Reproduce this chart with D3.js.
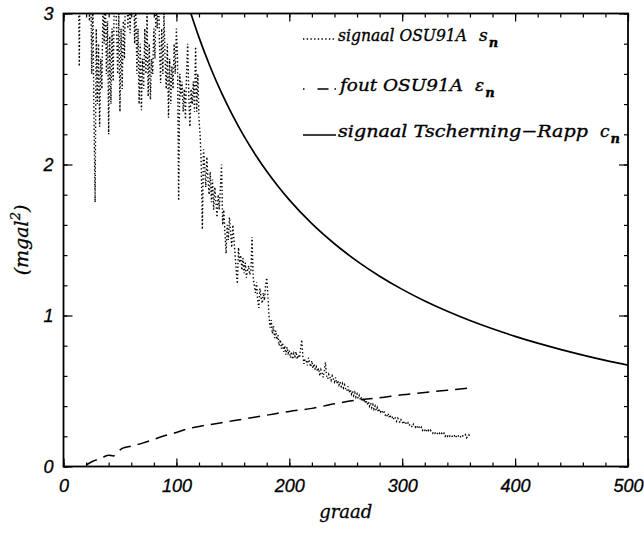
<!DOCTYPE html>
<html><head><meta charset="utf-8">
<script src="https://cdn.jsdelivr.net/npm/d3@7"></script>
<style>body{margin:0;background:#fff}</style></head>
<body><svg id="c" width="644" height="535"></svg>
<script>
// ---- data ----
const xTicks = [0, 100, 200, 300, 400, 500];
const yTicks = [0, 1, 2, 3];
const xMinor = [0,20,40,60,80,100,120,140,160,180,200,220,240,260,280,300,320,340,360,380,400,420,440,460,480,500];
const yMinor = [0,0.2,0.4,0.6,0.8,1,1.2,1.4,1.6,1.8,2,2.2,2.4,2.6,2.8,3];

// signaal OSU91A s_n, one value per degree starting at sigStart
const sigStart = 13;
const sigVals = [
 3.4,2.65,3.5,3.8,3.3,3.6,3.1,3.4,3.0,3.2,2.95,3.3,
 2.6,3.1,2.3,1.75,2.9,2.4,2.8,2.25,2.7,2.5,
 3.1,2.8,3.2,2.6,2.95,2.2,2.85,2.4,2.9,2.55,
 3.1,3.2,2.9,2.6,3.0,2.35,2.9,2.5,2.95,2.7,
 3.2,3.3,2.9,3.1,2.87,3.2,3.0,3.3,2.8,3.1,
 2.6,2.9,2.4,2.8,2.36,2.7,2.5,2.9,2.6,3.0,
 2.45,2.8,2.43,2.7,2.6,2.9,2.7,3.1,2.9,3.2,
 2.8,2.54,2.9,2.6,3.0,2.7,2.5,2.8,2.31,2.7,
 2.4,2.65,2.5,2.8,2.6,2.9,2.7,1.76,2.6,2.45,
 2.55,2.35,2.5,2.3,2.6,2.8,2.45,2.25,2.5,2.4,
 2.55,2.35,2.78,2.35,2.6,2.3,2.2,2.0,1.57,2.1,
 2.0,1.85,2.05,1.9,1.8,1.95,1.75,1.9,1.7,1.85,
 1.75,1.65,1.8,1.7,1.85,2.0,1.6,1.7,1.55,1.41,
 1.6,1.5,1.65,1.55,1.45,1.6,1.5,1.4,1.3,1.21,
 1.45,1.35,1.4,1.3,1.38,1.28,1.35,1.25,1.3,1.33,
 1.27,1.3,1.52,1.25,1.2,1.15,1.22,1.1,1.05,1.18,
 1.12,1.08,1.15,1.1,1.2,1.25,1.14,1.0,0.92,0.97,
 0.88,0.93,0.85,0.9,0.84,0.87,0.8,0.84,0.78,0.82,
 0.76,0.8,0.74,0.79,0.75,0.77,0.72,0.76,0.71,0.75,
 0.73,0.76,0.71,0.74,0.72,0.78,0.84,0.73,0.68,0.71,
 0.7,0.67,0.72,0.69,0.66,0.7,0.65,0.68,0.64,0.66,
 0.63,0.65,0.6,0.64,0.62,0.59,0.63,0.69,0.6,0.58,
 0.61,0.59,0.57,0.6,0.58,0.56,0.59,0.55,0.57,0.54,
 0.56,0.53,0.55,0.52,0.54,0.51,0.5,0.53,0.49,0.51,
 0.48,0.5,0.47,0.49,0.46,0.48,0.45,0.47,0.44,0.46,
 0.43,0.45,0.42,0.44,0.41,0.43,0.4,0.42,0.39,0.41,
 0.38,0.4,0.37,0.39,0.36,0.38,0.36,0.37,0.35,0.36,
 0.34,0.35,0.33,0.35,0.32,0.34,0.33,0.31,0.33,0.32,
 0.3,0.32,0.31,0.29,0.31,0.3,0.28,0.3,0.29,0.28,
 0.29,0.27,0.28,0.27,0.26,0.28,0.27,0.26,0.27,0.25,
 0.26,0.25,0.26,0.24,0.25,0.24,0.25,0.23,0.24,0.23,
 0.24,0.23,0.22,0.23,0.22,0.23,0.22,0.21,0.22,0.21,
 0.22,0.21,0.22,0.2,0.21,0.2,0.21,0.2,0.21,0.2,
 0.2,0.21,0.19,0.2,0.21,0.2,0.19,0.2,0.21,0.2,
 0.2,0.21,0.19,0.2,0.21,0.2
];

// fout OSU91A eps_n
const errDeg = [20,26,32,36,40,44,48,52,60,70,80,90,100,110,120,140,160,180,200,220,240,260,280,300,320,340,360];
const errVal = [0.01,0.035,0.05,0.065,0.075,0.07,0.095,0.12,0.135,0.155,0.18,0.205,0.225,0.25,0.265,0.29,0.315,0.34,0.365,0.385,0.415,0.44,0.455,0.475,0.49,0.505,0.52];

// signaal Tscherning-Rapp c_n
const tscDeg = [112,113,120,130,140,150,160,170,180,190,200,220,240,260,280,300,320,340,360,380,400,420,440,460,480,500];
const tscVal = [3.02,2.997,2.842,2.646,2.474,2.322,2.186,2.065,1.955,1.856,1.766,1.608,1.475,1.360,1.260,1.173,1.096,1.028,0.967,0.912,0.862,0.817,0.776,0.738,0.703,0.671];

const legendLabels = ["signaal OSU91A", "fout OSU91A", "signaal Tscherning\u2212Rapp"];
const legendSyms = ["s", "\u03b5", "c"];

// ---- drawing ----
const svg = d3.select("#c");
const L = 63.5, R = 628, T = 13.5, B = 466.5;
const x = d3.scaleLinear().domain([0, 500]).range([L, R]);
const y = d3.scaleLinear().domain([0, 3]).range([B, T]);

svg.append("defs").append("clipPath").attr("id","clip")
  .append("rect").attr("x", L).attr("y", T).attr("width", R-L).attr("height", B-T);

const tickFont = "italic 18px 'Liberation Sans', Arial, sans-serif";

function styleAxis(g){ g.select(".domain").remove(); g.selectAll("line").attr("stroke","#000").attr("stroke-width",1.2); }

// bottom
svg.append("g").attr("transform",`translate(0,${B})`)
  .call(d3.axisBottom(x).tickValues(xMinor).tickSize(-4).tickFormat("")).call(styleAxis);
svg.append("g").attr("transform",`translate(0,${B})`)
  .call(d3.axisBottom(x).tickValues(xTicks).tickSize(-8).tickPadding(13).tickFormat(d3.format("d")))
  .call(styleAxis)
  .selectAll("text").style("font", tickFont).attr("fill","#000").attr("stroke","#000").attr("stroke-width",0.3);
// top
svg.append("g").attr("transform",`translate(0,${T})`)
  .call(d3.axisTop(x).tickValues(xMinor).tickSize(-4).tickFormat("")).call(styleAxis);
svg.append("g").attr("transform",`translate(0,${T})`)
  .call(d3.axisTop(x).tickValues(xTicks).tickSize(-8).tickFormat("")).call(styleAxis);
// left
svg.append("g").attr("transform",`translate(${L},0)`)
  .call(d3.axisLeft(y).tickValues(yMinor).tickSize(-4).tickFormat("")).call(styleAxis);
svg.append("g").attr("transform",`translate(${L},0)`)
  .call(d3.axisLeft(y).tickValues(yTicks).tickSize(-9).tickPadding(10).tickFormat(d3.format("d")))
  .call(styleAxis)
  .selectAll("text").style("font", tickFont).attr("fill","#000").attr("stroke","#000").attr("stroke-width",0.3);
// right
svg.append("g").attr("transform",`translate(${R},0)`)
  .call(d3.axisRight(y).tickValues(yMinor).tickSize(-4).tickFormat("")).call(styleAxis);
svg.append("g").attr("transform",`translate(${R},0)`)
  .call(d3.axisRight(y).tickValues(yTicks).tickSize(-9).tickFormat("")).call(styleAxis);

// frame
svg.append("rect").attr("x",L).attr("y",T).attr("width",R-L).attr("height",B-T)
  .attr("fill","none").attr("stroke","#000").attr("stroke-width",1.8);

const plot = svg.append("g").attr("clip-path","url(#clip)");

const sigData = sigVals.map((v,i)=>[sigStart+i, v]);
plot.append("path").datum(sigData)
  .attr("d", d3.line().x(d=>x(d[0])).y(d=>y(d[1])))
  .attr("fill","none").attr("stroke","#000").attr("stroke-width",1.4)
  .attr("stroke-dasharray","1.4,2.3");

const errData = errDeg.map((d,i)=>[d, errVal[i]]);
plot.append("path").datum(errData)
  .attr("d", d3.line().x(d=>x(d[0])).y(d=>y(d[1])).curve(d3.curveMonotoneX))
  .attr("fill","none").attr("stroke","#000").attr("stroke-width",1.5)
  .attr("stroke-dasharray","12,7");

const tscData = tscDeg.map((d,i)=>[d, tscVal[i]]);
plot.append("path").datum(tscData)
  .attr("d", d3.line().x(d=>x(d[0])).y(d=>y(d[1])).curve(d3.curveMonotoneX))
  .attr("fill","none").attr("stroke","#000").attr("stroke-width",1.7);

// legend
const serif = "'DejaVu Serif', serif";
const legBase = [41, 91, 137];
const legTextEnd = [467, 463, 588];
const legTextStart = [338, 340, 338];
const legDash = ["1.4,2.3", "1.5,13,11,6", null];
legendLabels.forEach((lab, i) => {
  const yy = legBase[i];
  const ln = svg.append("line").attr("x1",303).attr("x2",336).attr("y1",yy-2).attr("y2",yy-2)
    .attr("stroke","#000").attr("stroke-width",1.5);
  if (legDash[i]) ln.attr("stroke-dasharray", legDash[i]);
  svg.append("text").attr("x", legTextStart[i]).attr("y", yy)
    .attr("textLength", legTextEnd[i]-legTextStart[i]).attr("lengthAdjust","spacingAndGlyphs")
    .attr("stroke","#000").attr("stroke-width",0.35)
    .style("font-family", serif).style("font-style","italic").style("font-size","17px")
    .text(lab);
  const t = svg.append("text").attr("x", legTextEnd[i] + 12).attr("y", yy)
    .attr("stroke","#000").attr("stroke-width",0.35)
    .style("font-family", serif).style("font-style","italic").style("font-size","17px");
  t.append("tspan").text(legendSyms[i]);
  t.append("tspan").attr("dy", 6).attr("dx", 1).style("font-size","13px").style("font-weight","bold").text("n");
});

// axis titles
svg.append("text").attr("x", (L+R)/2).attr("y", 518).attr("text-anchor","middle")
  .attr("stroke","#000").attr("stroke-width",0.3)
  .style("font-family", serif).style("font-style","italic").style("font-size","18px").text("graad");
const yt = svg.append("text").attr("transform",`translate(28,${(T+B)/2}) rotate(-90)`).attr("text-anchor","middle")
  .attr("stroke","#000").attr("stroke-width",0.3)
  .style("font-family", serif).style("font-style","italic").style("font-size","19px");
yt.append("tspan").text("(mgal");
yt.append("tspan").attr("dy",-8).style("font-size","13px").text("2");
yt.append("tspan").attr("dy",8).text(")");
</script></body></html>
